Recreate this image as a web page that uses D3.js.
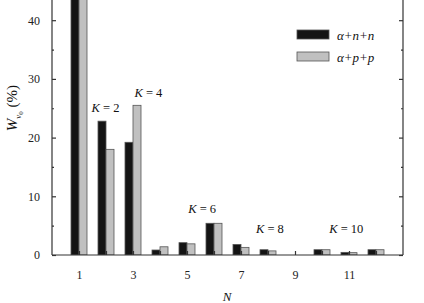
<!DOCTYPE html>
<html>
<head>
<meta charset="utf-8">
<script src="https://cdn.jsdelivr.net/npm/d3@7"></script>
<style>
  body { margin: 0; background: #fff; }
  svg { display: block; font-family: "Liberation Serif", "Times New Roman", serif; }
</style>
</head>
<body>
<div id="chart"></div>
<script>
// Data
const nValues = [1, 2, 3, 4, 5, 6, 7, 8, 9, 10, 11, 12];
const alphaNN = [48, 22.8, 19.2, 0.85, 2.1, 5.4, 1.8, 0.9, 0, 0.9, 0.45, 0.9];
const alphaPP = [48, 18.0, 25.5, 1.4, 1.9, 5.4, 1.3, 0.7, 0, 0.9, 0.4, 0.9];
const xTickLabels = [1, 3, 5, 7, 9, 11];
const yTickLabels = [0, 10, 20, 30, 40];
const seriesNames = ["α+n+n", "α+p+p"];
const seriesColors = ["#141414", "#c0c0c0"];
// cluster annotations: [text, N position, value position]
const kLabels = [["2", 1.98, 24.4], ["4", 3.57, 26.9], ["6", 5.56, 7.2], ["8", 8.07, 3.7], ["10", 10.9, 3.7]];

const width = 424, height = 303;
const serif = "'Liberation Serif', 'Times New Roman', serif";

const svg = d3.select("#chart").append("svg")
    .attr("width", width)
    .attr("height", height);

// Scales (top of plot is cut off in the original picture)
const x = d3.scaleLinear().domain([0, 13]).range([52, 403]);
const y = d3.scaleLinear().domain([0, 50]).range([255, -38.5]);

const barW = 8;

// Clip so tall bars are cut at the top edge
svg.append("clipPath").attr("id", "plotClip")
    .append("rect").attr("x", 0).attr("y", 0).attr("width", width).attr("height", 255);

const bars = svg.append("g").attr("clip-path", "url(#plotClip)");

[alphaNN, alphaPP].forEach((vals, s) => {
    bars.selectAll(null)
        .data(vals)
        .enter().append("rect")
        .attr("x", (d, i) => x(nValues[i]) + (s === 0 ? -barW : 0))
        .attr("y", d => y(d))
        .attr("width", barW)
        .attr("height", d => y(0) - y(d))
        .attr("fill", seriesColors[s])
        .attr("stroke", d => d > 0 ? "#555" : "none")
        .attr("stroke-width", 0.8);
});

// Axes
const axisColor = "#333";

// bottom axis: ticks inward on every integer, labels on odd values
const xAxis = svg.append("g").attr("transform", `translate(0,${y(0)})`)
    .call(d3.axisBottom(x).tickValues(d3.range(1, 13)).tickSize(-4).tickPadding(15)
        .tickFormat(d => xTickLabels.includes(d) ? d : ""));
xAxis.select(".domain").attr("d", `M${x(0)},0H${x(13)}`);

// left axis: major every 10, minor every 5
const yAxis = svg.append("g").attr("transform", `translate(${x(0)},0)`)
    .call(d3.axisLeft(y).tickValues(yTickLabels).tickSize(-4).tickPadding(12));
yAxis.select(".domain").attr("d", `M0,${y(0)}V0`);
svg.append("g").attr("transform", `translate(${x(0)},0)`)
    .call(d3.axisLeft(y).tickValues([5, 15, 25, 35, 45]).tickSize(-2).tickFormat(""))
    .select(".domain").remove();

// right axis
const yAxisR = svg.append("g").attr("transform", `translate(${x(13)},0)`)
    .call(d3.axisRight(y).tickValues(yTickLabels).tickSize(-4).tickFormat(""));
yAxisR.select(".domain").attr("d", `M0,${y(0)}V0`);
svg.append("g").attr("transform", `translate(${x(13)},0)`)
    .call(d3.axisRight(y).tickValues([5, 15, 25, 35, 45]).tickSize(-2).tickFormat(""))
    .select(".domain").remove();

svg.selectAll(".domain, .tick line").attr("stroke", axisColor).attr("stroke-width", 1.2);
svg.selectAll(".tick text")
    .attr("font-family", serif)
    .attr("font-size", 12)
    .attr("fill", "#222");

// K annotations
kLabels.forEach(([k, n, v]) => {
    const t = svg.append("text")
        .attr("x", x(n))
        .attr("y", y(v))
        .attr("text-anchor", "middle")
        .attr("font-size", 12.5)
        .attr("fill", "#111");
    t.append("tspan").attr("font-style", "italic").text("K");
    t.append("tspan").text(" = " + k);
});

// Legend
const legend = svg.append("g").attr("transform", "translate(297,30)");
seriesNames.forEach((name, i) => {
    legend.append("rect")
        .attr("x", 0).attr("y", i * 22)
        .attr("width", 32).attr("height", 9)
        .attr("fill", seriesColors[i])
        .attr("stroke", "#555").attr("stroke-width", 0.8);
    legend.append("text")
        .attr("x", 40).attr("y", i * 22 + 10)
        .attr("font-size", 13)
        .attr("font-style", "italic")
        .attr("fill", "#111")
        .text(name);
});

// Axis titles
const yTitle = svg.append("text")
    .attr("transform", "translate(17,108) rotate(-90)")
    .attr("text-anchor", "middle")
    .attr("font-size", 15)
    .attr("fill", "#111");
yTitle.append("tspan").attr("font-style", "italic").text("W");
yTitle.append("tspan").attr("font-size", 9).attr("dy", 4).attr("font-style", "italic").text("ν");
yTitle.append("tspan").attr("font-size", 7).attr("dy", 2).text("0");
yTitle.append("tspan").attr("dy", -6).text(" (%)");

svg.append("text")
    .attr("x", 227).attr("y", 301)
    .attr("text-anchor", "middle")
    .attr("font-size", 13)
    .attr("font-style", "italic")
    .attr("fill", "#111")
    .text("N");
</script>
</body>
</html>
